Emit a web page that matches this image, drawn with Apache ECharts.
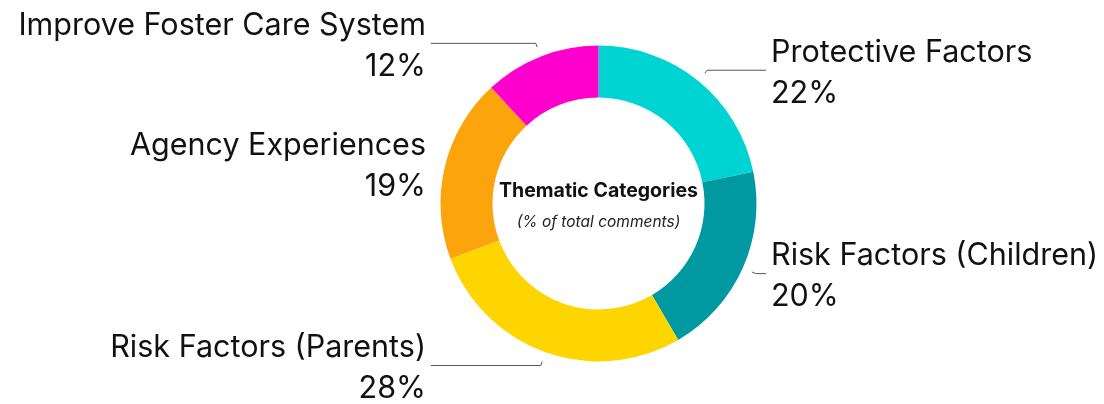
<!DOCTYPE html>
<html>
<head>
<meta charset="utf-8">
<script src="https://cdn.jsdelivr.net/npm/echarts@6/dist/echarts.min.js"></script>
<style>
  html, body { margin: 0; padding: 0; background: #ffffff; }
  #chart { width: 1104px; height: 404px; }
</style>
</head>
<body>
<div id="chart"></div>
<script>
// Thematic categories, share of total comments (%)
const categories = [
  'Protective Factors',
  'Risk Factors (Children)',
  'Risk Factors (Parents)',
  'Agency Experiences',
  'Improve Foster Care System'
];
const shares = [22, 20, 28, 19, 12];
const colors = ['#00D4D3', '#0099A2', '#FFD500', '#FCA40C', '#FF00CC'];

const centerTitle = 'Thematic Categories';
const centerSubtitle = '(% of total comments)';

// Ring geometry (pixels)
const CX = 598.5, CY = 203.5, R_IN = 106, R_OUT = 158;
// Leader lines: gap from ring, short radial hook, then horizontal run to a common x
const GAP = 10, HOOK = 4, REACH = 167.5, TEXT_PAD = 5;

const chart = echarts.init(document.getElementById('chart'), null, { renderer: 'canvas' });

function placeLabel(p) {
  const pts = p.labelLinePoints;
  if (!pts) return {};
  const dx = pts[0][0] - CX, dy = pts[0][1] - CY;
  const d = Math.hypot(dx, dy) || 1;
  const ux = dx / d, uy = dy / d;
  const left = ux < 0;
  const a = [CX + ux * (R_OUT + GAP), CY + uy * (R_OUT + GAP)];
  const b = [CX + ux * (R_OUT + GAP + HOOK), CY + uy * (R_OUT + GAP + HOOK)];
  const endX = CX + (left ? -1 : 1) * REACH;
  const c = [endX, b[1]];
  const run = left ? b[0] - endX : endX - b[0];
  const line = run > 1 ? [a, b, c] : [c, c, c];
  return {
    x: endX + (left ? -1 : 1) * TEXT_PAD,
    y: b[1] + 3,
    align: left ? 'right' : 'left',
    verticalAlign: 'middle',
    labelLinePoints: line
  };
}

chart.setOption({
  animation: false,
  backgroundColor: '#ffffff',
  series: [{
    type: 'pie',
    center: [CX, CY],
    radius: [R_IN, R_OUT],
    startAngle: 90,
    clockwise: true,
    avoidLabelOverlap: false,
    silent: true,
    itemStyle: { borderWidth: 0 },
    data: categories.map((name, i) => ({
      name: name,
      value: shares[i],
      itemStyle: { color: colors[i] }
    })),
    label: {
      show: true,
      position: 'outside',
      formatter: '{b}\n{c}%',
      fontFamily: 'Inter',
      fontSize: 30.5,
      fontWeight: 400,
      lineHeight: 41,
      color: '#111111'
    },
    labelLine: {
      show: true,
      length: 10,
      length2: 10,
      smooth: false,
      lineStyle: { color: '#555555', width: 1 }
    },
    labelLayout: placeLabel
  }],
  graphic: [
    {
      type: 'text',
      x: CX,
      y: 191,
      style: {
        text: centerTitle,
        fontFamily: 'Inter',
        fontSize: 19.5,
        fontWeight: 'bold',
        fill: '#111111',
        align: 'center',
        verticalAlign: 'middle'
      }
    },
    {
      type: 'text',
      x: CX,
      y: 222,
      style: {
        text: centerSubtitle,
        fontFamily: 'Inter',
        fontSize: 15.5,
        fontStyle: 'italic',
        fill: '#222222',
        align: 'center',
        verticalAlign: 'middle'
      }
    }
  ]
});
</script>
</body>
</html>
